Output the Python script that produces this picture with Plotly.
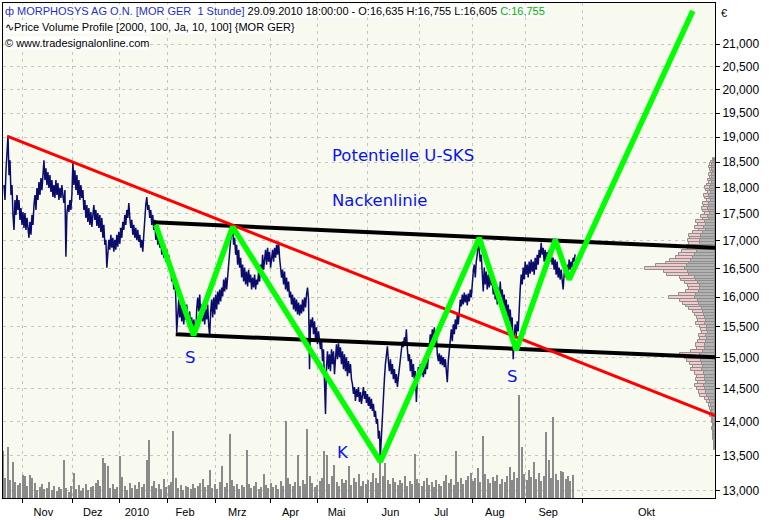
import math
import plotly.graph_objects as go

# ---------------- data ----------------
# x axis unit: trading days counted from 2 Nov 2009
FIRST_SAMPLE_DAY = -7.667
SAMPLE_STEP = 0.41  # days between price samples (hourly bars, thinned)
PRICE = [
    18049, 17762, 18340, 18737, 19040, 18243, 18537, 17857, 18049, 17479,
    17201, 17762, 17479, 17857, 17573, 17762, 17386, 17610, 17293, 17535,
    17238, 17516, 17201, 17423, 17164, 17055, 17349, 17110, 17479, 17293,
    17667, 17857, 17573, 17991, 17762, 18107, 17857, 18185, 17952, 18301,
    18537, 18146, 18379, 18049, 18301, 17991, 18243, 17914, 18146, 17819,
    18049, 17800, 18146, 17857, 18088, 17762, 17991, 17800, 18049, 17838,
    17705, 17952, 16713, 17516, 17667, 17535, 17762, 17573, 17857, 18497,
    18049, 18340, 17952, 18243, 17857, 18146, 17762, 18049, 17800, 17952,
    17573, 17762, 17423, 17667, 17349, 17610, 17293, 17535, 17257, 17479,
    17667, 17386, 17573, 17275, 17516, 17238, 17479, 17164, 17423, 17055,
    17293, 16927, 17018, 16517, 16748, 17018, 16837, 17110, 16873, 17055,
    16801, 17018, 16837, 17110, 16891, 17164, 16945, 17238, 17055, 17349,
    17201, 17479, 17293, 17573, 17423, 17705, 17423, 17238, 17386, 17110,
    17293, 17055, 17238, 17018, 17201, 16982, 17110, 16873, 17018, 16801,
    17110, 17479, 17667, 17819, 17573, 17667, 17423, 17573, 17293, 17479,
    17201, 17386, 17018, 17238, 16927, 17164, 16873, 17055, 16748, 16982,
    16694, 16927, 16624, 16837, 16570, 16748, 16446, 16570, 16272, 16481,
    16133, 16342, 16012, 15409, 15792, 15961, 15657, 15876, 15590, 15826,
    15540, 15758, 15623, 15876, 15657, 15491, 15758, 15458, 15657, 15376,
    15623, 15425, 15343, 15792, 15995, 15758, 16047, 15707, 15876, 15590,
    15826, 15540, 15792, 15623, 15876, 15524, 15343, 15758, 15961, 15657,
    15995, 15707, 16047, 15792, 16099, 15876, 16133, 15927, 16168, 16012,
    16307, 16099, 16342, 16133, 16394, 16624, 16837, 17018, 17110, 17238,
    16927, 17055, 16748, 16927, 16570, 16837, 16517, 16694, 16342, 16570,
    16272, 16517, 16220, 16446, 16185, 16481, 16255, 16394, 16133, 16342,
    16168, 16394, 16133, 16307, 16220, 16446, 16272, 16570, 16394, 16748,
    16481, 16694, 16837, 16570, 16873, 16624, 16801, 16517, 16748, 16837,
    16624, 16873, 16694, 16927, 16748, 16982, 16694, 16517, 16342, 16481,
    16220, 16446, 16133, 16342, 16099, 16272, 15995, 16099, 15876, 16047,
    15792, 15995, 15758, 15961, 15707, 15910, 15690, 15876, 15724, 15961,
    15758, 15995, 15826, 16047, 16168, 15961, 14811, 15623, 15491, 15657,
    15376, 15590, 15294, 15491, 15212, 15425, 15261, 15131, 15294, 14938,
    15131, 14732, 14116, 14842, 15099, 14811, 15050, 14779, 15131, 14890,
    15099, 14732, 15002, 15212, 14970, 15228, 15002, 15163, 14890, 15099,
    14811, 15050, 14779, 15002, 14700, 14938, 14747, 14890, 14653, 14575,
    14421, 14529, 14314, 14498, 14375, 14529, 14298, 14452, 14268, 14421,
    14529, 14345, 14467, 14283, 14421, 14237, 14375, 14191, 14345, 14161,
    14268, 14071, 14161, 13966, 14041, 13743, 13861, 13495, 13817, 14191,
    14421, 14653, 14890, 15050, 15179, 14938, 14779, 14970, 14732, 14890,
    14653, 14811, 14591, 14732, 14529, 14685, 14811, 14970, 15131, 15261,
    15163, 15327, 15212, 15458, 15131, 14938, 15050, 14779, 14970, 14685,
    14890, 14653, 14779, 14298, 14653, 14842, 14685, 14890, 14716, 14874,
    14685, 14842, 14732, 14938, 14811, 15050, 15212, 15376, 15212, 15458,
    15294, 15491, 15212, 15376, 15050, 14938, 15066, 14890, 15034, 14874,
    15002, 14842, 14970, 14779, 14606, 14938, 15131, 15294, 15458, 15261,
    15540, 15376, 15623, 15458, 15707, 15540, 15792, 15961, 15843, 16047,
    15876, 16081, 15910, 16047, 15860, 16064, 15927, 16133, 15995, 16307,
    16446, 16570, 16342, 16624, 16748, 17018, 16801, 16624, 16748, 16394,
    16099, 16517, 16220, 16446, 16133, 16394, 16168, 16446, 16203, 16342,
    16047, 16307, 15961, 16220, 15876, 16168, 15927, 16272, 15995, 16133,
    15876, 16047, 15758, 15961, 15657, 15876, 15590, 15792, 15491, 15657,
    14970, 15376, 15540, 15343, 15590, 15425, 15876, 16133, 16394, 16220,
    16517, 16307, 16624, 16394, 16570, 16342, 16624, 16411, 16659, 16446,
    16624, 16394, 16694, 16481, 16748, 16570, 16837, 16694, 16964, 16748,
    16873, 16624, 16837, 16588, 16801, 16552, 16837, 16624, 16784, 16570,
    16694, 16481, 16659, 16394, 16624, 16342, 16517, 16307, 16481, 16272,
    16133, 16394, 16517, 16342, 16570, 16411, 16659, 16481, 16624, 16517,
    16694, 16624, 16755,
]

FIRST_VOLUME_DAY = -8
VOLUME = [  # thousand shares per trading day
    235, 100, 255, 90, 180, 80, 65, 75, 115, 110,
    60, 115, 100, 75, 40, 55, 70, 45, 50, 80,
    40, 60, 35, 55, 45, 190, 50, 30, 60, 125,
    45, 65, 35, 50, 70, 40, 55, 60, 75, 90,
    60, 200, 175, 160, 50, 70, 45, 55, 210, 105,
    60, 40, 75, 50, 65, 45, 80, 55, 70, 190,
    290, 60, 85, 50, 70, 45, 95, 55, 65, 80,
    335, 100, 50, 65, 40, 60, 55, 45, 70, 50,
    60, 75, 95, 55, 65, 140, 50, 70, 45, 80,
    160, 55, 75, 320, 90, 60, 70, 45, 65, 55,
    240, 70, 50, 60, 80, 45, 55, 120, 65, 50,
    75, 55, 65, 45, 85, 60, 385, 100, 70, 60,
    80, 215, 60, 90, 70, 345, 110, 75, 55, 65,
    85, 100, 235, 215, 70, 110, 165, 80, 60, 95,
    75, 90, 160, 65, 100, 80, 120, 60, 85, 70,
    90, 80, 125, 100, 75, 275, 110, 175, 90, 70,
    100, 80, 65, 90, 75, 110, 60, 85, 70, 220,
    95, 75, 60, 85, 100, 65, 80, 55, 90, 70,
    60, 85, 115, 75, 95, 65, 235, 80, 100, 70,
    90, 110, 125, 85, 100, 150, 80, 310, 120, 95,
    75, 105, 85, 115, 70, 95, 80, 110, 155, 90,
    130, 100, 520, 255, 120, 90, 140, 105, 180, 95,
    125, 85, 110, 330, 190, 100, 405, 120, 90, 135,
    130, 95, 110, 85, 115,
]

PROFILE_PRICE = [
    18550, 18500, 18450, 18400, 18350, 18300, 18250, 18200, 18150, 18100,
    18050, 18000, 17950, 17900, 17850, 17800, 17750, 17700, 17650, 17600,
    17550, 17500, 17450, 17400, 17350, 17300, 17250, 17200, 17150, 17100,
    17050, 17000, 16950, 16900, 16850, 16800, 16750, 16700, 16650, 16600,
    16550, 16500, 16450, 16400, 16350, 16300, 16250, 16200, 16150, 16100,
    16050, 16000, 15950, 15900, 15850, 15800, 15750, 15700, 15650, 15600,
    15550, 15500, 15450, 15400, 15350, 15300, 15250, 15200, 15150, 15100,
    15050, 15000, 14950, 14900, 14850, 14800, 14750, 14700, 14650, 14600,
    14550, 14500, 14450, 14400, 14350, 14300, 14250, 14200, 14150, 14100,
    14050, 14000, 13950, 13900, 13850, 13800, 13750, 13700, 13650, 13600,
]
PROFILE_DOWN = [
    1, 2, 3, 3, 3, 2, 3, 3, 4, 3,
    4, 5, 5, 4, 6, 5, 4, 6, 6, 7,
    6, 5, 7, 6, 10, 9, 11, 9, 12, 14,
    14, 15, 15, 16, 15, 18, 20, 22, 24, 26,
    28, 30, 27, 26, 20, 19, 17, 15, 15, 16,
    19, 20, 17, 16, 15, 13, 12, 11, 10, 9,
    10, 8, 8, 7, 9, 8, 9, 10, 10, 12,
    15, 14, 14, 13, 12, 13, 11, 10, 10, 9,
    11, 10, 9, 8, 6, 5, 4, 3, 3, 3,
    2, 2, 1, 2, 1, 1, 1, 1, 1, 1,
]
PROFILE_UP = [
    1, 2, 2, 3, 2, 2, 3, 2, 3, 3,
    4, 5, 4, 3, 5, 5, 4, 6, 5, 6,
    6, 5, 7, 6, 9, 8, 9, 7, 10, 12,
    11, 12, 11, 12, 12, 15, 16, 17, 21, 23,
    31, 40, 24, 22, 15, 15, 13, 12, 11, 13,
    17, 26, 18, 16, 14, 13, 10, 9, 8, 8,
    9, 7, 6, 6, 7, 7, 8, 9, 8, 12,
    20, 16, 14, 12, 10, 11, 9, 8, 9, 8,
    9, 8, 7, 7, 4, 3, 2, 2, 1, 2,
    1, 1, 1, 1, 1, 1, 1, 0, 0, 0,
]

RED_DAY = [-6.15, 284.3]
RED_PRICE = [19020, 14091]
NECK_UPPER_DAY = [53.8, 284.3]
NECK_UPPER_PRICE = [17340, 16874]
NECK_LOWER_DAY = [62.85, 284.3]
NECK_LOWER_PRICE = [15376, 15002]
ZIGZAG_DAY = [54.65, 70.2, 86.2, 146.9, 187.5, 202.7, 218.7, 224.4, 275.2]
ZIGZAG_PRICE = [17294, 15360, 17257, 13409, 17055, 15116, 17018, 16307, 21761]

CIRCLE_DAY = 224.1
CIRCLE_PRICE = 17184

MONTH_START_DAY = [0, 20.5, 39.6, 59.4, 79.3, 101.8, 120.9, 141.4, 163, 184.9, 206.3, 230]
MONTH_LABEL_DAY = [8.5, 28.8, 46.9, 66.7, 88.1, 110, 128.9, 151, 171.9, 193.9, 215.8, 256.2]
MONTH_LABELS = ["Nov", "Dez", "2010", "Feb", "Mrz", "Apr", "Mai", "Jun", "Jul", "Aug", "Sep", "Okt"]

PRICE_TICKS = [13000, 13500, 14000, 14500, 15000, 15500, 16000, 16500, 17000,
               17500, 18000, 18500, 19000, 19500, 20000, 20500, 21000]
PRICE_TICK_TEXT = ["13,000", "13,500", "14,000", "14,500", "15,000", "15,500", "16,000",
                   "16,500", "17,000", "17,500", "18,000", "18,500", "19,000", "19,500",
                   "20,000", "20,500", "21,000"]

# ---------------- layout constants ----------------
X_RANGE = [-8.08, 284.3]
Y_RANGE = [12896, 21948]
VOL_AXIS_MAX = 2490
PROFILE_DAYS_PER_UNIT = 0.41
CIRCLE_R_DAYS = 10.95
CIRCLE_R_LOG = 0.0124

BG = "#F8FAF0"
GRID = "#C4C4C4"
FONT = "Liberation Sans"

price_day = [FIRST_SAMPLE_DAY + i * SAMPLE_STEP for i in range(len(PRICE))]
vol_day = [FIRST_VOLUME_DAY + i for i in range(len(VOLUME))]

right_edge = X_RANGE[1]
down_len = [-v * PROFILE_DAYS_PER_UNIT for v in PROFILE_DOWN]
up_len = [-v * PROFILE_DAYS_PER_UNIT for v in PROFILE_UP]
up_base = [right_edge + d for d in down_len]

fig = go.Figure()

# volume (base subplot)
fig.add_trace(go.Bar(x=vol_day, y=VOLUME, xaxis="x", yaxis="y2", width=0.55,
                     marker=dict(color="#8A8A8A", line=dict(width=0)),
                     showlegend=False, hoverinfo="skip"))

# price volume profile
fig.add_trace(go.Bar(y=PROFILE_PRICE, x=down_len, base=[right_edge] * len(down_len),
                     orientation="h", xaxis="x", yaxis="y",
                     marker=dict(color="#B2B2B2", line=dict(color="#8E8E8E", width=1)),
                     showlegend=False, hoverinfo="skip"))
fig.add_trace(go.Bar(y=PROFILE_PRICE, x=up_len, base=up_base,
                     orientation="h", xaxis="x", yaxis="y",
                     marker=dict(color="#F2CACA", line=dict(color="#8E8E8E", width=1)),
                     showlegend=False, hoverinfo="skip"))

# price line
fig.add_trace(go.Scatter(x=price_day, y=PRICE, mode="lines", xaxis="x", yaxis="y",
                         line=dict(color="#0B0B6B", width=1.5),
                         showlegend=False, hoverinfo="skip"))

# neck lines
for xs, ys in [(NECK_UPPER_DAY, NECK_UPPER_PRICE), (NECK_LOWER_DAY, NECK_LOWER_PRICE)]:
    fig.add_trace(go.Scatter(x=xs, y=ys, mode="lines", xaxis="x", yaxis="y",
                             line=dict(color="#000000", width=4),
                             showlegend=False, hoverinfo="skip"))
# trend line
fig.add_trace(go.Scatter(x=RED_DAY, y=RED_PRICE, mode="lines", xaxis="x", yaxis="y",
                         line=dict(color="#FF0000", width=3),
                         showlegend=False, hoverinfo="skip"))
# pattern zigzag
fig.add_trace(go.Scatter(x=ZIGZAG_DAY, y=ZIGZAG_PRICE, mode="lines", xaxis="x", yaxis="y",
                         line=dict(color="#00FF00", width=5.5),
                         showlegend=False, hoverinfo="skip"))

# highlight circle
cy = math.log10(CIRCLE_PRICE)
fig.add_shape(type="circle", xref="x", yref="y",
              x0=CIRCLE_DAY - CIRCLE_R_DAYS, x1=CIRCLE_DAY + CIRCLE_R_DAYS,
              y0=cy - CIRCLE_R_LOG, y1=cy + CIRCLE_R_LOG,
              fillcolor="rgba(255,255,80,0.45)", line=dict(color="#FF0000", width=1),
              layer="above")

BLUE = "#0A14E6"
def label(text, day, price, anchor="center"):
    fig.add_annotation(x=day, y=math.log10(price), xref="x", yref="y", text=text,
                       showarrow=False, xanchor=anchor, yanchor="middle",
                       font=dict(family="DejaVu Sans", size=16.5, color=BLUE))

label("Potentielle U-SKS", 126.4, 18637, "left")
label("Nackenlinie", 126.4, 17743, "left")
label("S", 68.7, 15002)
label("K", 131.7, 13539)
label("S", 201.0, 14700)

# header lines
hdr1 = ('<span style="color:#1E2FC8">\u0444 MORPHOSYS AG O.N. [MOR GER\u00a0\u00a01 Stunde]</span>'
        ' 29.09.2010 18:00:00 - O:16,635 H:16,755 L:16,605 '
        '<span style="color:#00B000">C:16,755</span>')
hdr2 = "\u223fPrice Volume Profile [2000, 100, Ja, 10, 100] {MOR GER}"
hdr3 = "\u00a9 www.tradesignalonline.com"
for i, t in enumerate([hdr1, hdr2, hdr3]):
    fig.add_annotation(x=0, y=1, xref="paper", yref="paper", text=t, showarrow=False,
                       xanchor="left", yanchor="top", xshift=1, yshift=-0.5 - 16 * i,
                       bgcolor="#FFFFFF", borderpad=0,
                       font=dict(family=FONT, size=11, color="#000000"))

fig.add_annotation(x=1, y=1, xref="paper", yref="paper", text="\u20ac", showarrow=False,
                   xanchor="center", yanchor="middle", xshift=9, yshift=-10,
                   font=dict(family=FONT, size=11, color="#000000"))

fig.update_layout(
    width=769, height=520,
    margin=dict(l=2, r=54, t=2, b=20),
    paper_bgcolor="#FFFFFF", plot_bgcolor=BG,
    barmode="overlay", bargap=0,
    showlegend=False,
    xaxis=dict(
        range=X_RANGE, showline=True, linecolor="#000000", linewidth=1, mirror=True,
        tickvals=MONTH_LABEL_DAY, ticktext=MONTH_LABELS, ticks="", showgrid=False,
        zeroline=False, ticklabelstandoff=4,
        tickfont=dict(family=FONT, size=11, color="#000000"),
        minor=dict(tickvals=MONTH_START_DAY, ticks="outside", ticklen=4, tickcolor="#000000",
                   showgrid=True, gridcolor=GRID, griddash="3px,4px", gridwidth=1),
    ),
    yaxis2=dict(range=[0, VOL_AXIS_MAX], visible=False, fixedrange=True),
    yaxis=dict(
        type="log", overlaying="y2", side="right",
        range=[math.log10(Y_RANGE[0]), math.log10(Y_RANGE[1])],
        tickvals=PRICE_TICKS, ticktext=PRICE_TICK_TEXT,
        ticks="outside", ticklen=4, tickcolor="#000000",
        showline=True, linecolor="#000000", linewidth=1, mirror=True,
        showgrid=True, gridcolor=GRID, griddash="3px,4px", gridwidth=1,
        zeroline=False,
        tickfont=dict(family=FONT, size=12, color="#000000"),
    ),
)

fig.write_html("out.html", config={"displayModeBar": False},
               post_script="document.body.style.margin='0';document.body.style.overflow='hidden';")
